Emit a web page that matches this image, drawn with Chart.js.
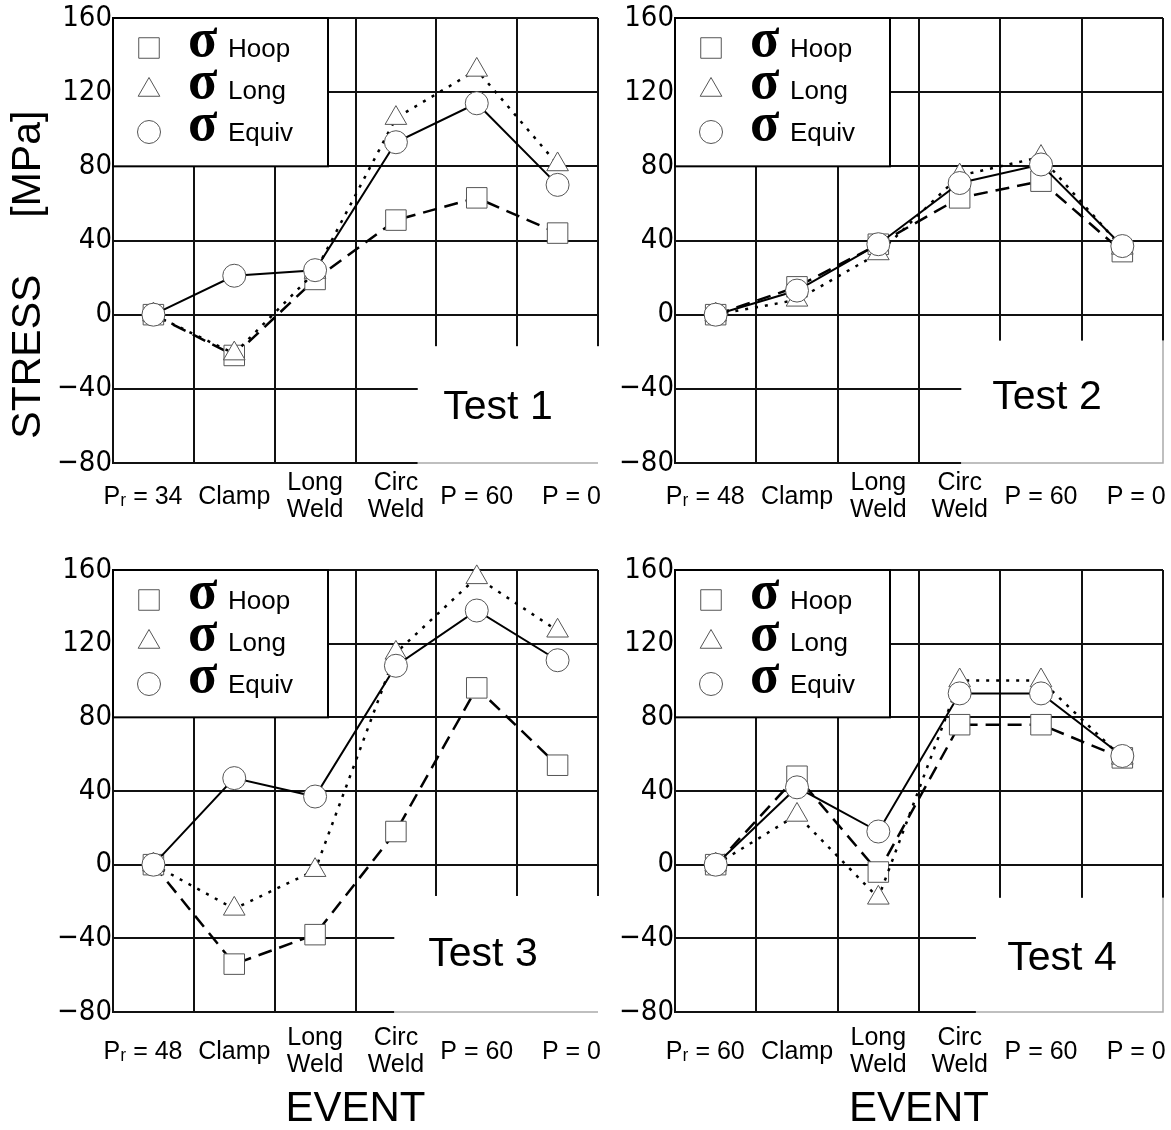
<!DOCTYPE html>
<html>
<head>
<meta charset="utf-8">
<script src="https://cdn.jsdelivr.net/npm/chart.js@4.4.0/dist/chart.umd.min.js"></script>
<style>
  body { margin: 0; background: #fff; width: 1171px; height: 1130px; position: relative; overflow: hidden; }
  canvas { position: absolute; }
</style>
</head>
<body>
<canvas id="c1" width="600" height="530" style="left:0;top:0"></canvas>
<canvas id="c2" width="609" height="530" style="left:562px;top:0"></canvas>
<canvas id="c3" width="600" height="578" style="left:0;top:552px"></canvas>
<canvas id="c4" width="609" height="578" style="left:562px;top:552px"></canvas>
<script>
// events along the x axis (first one is the reference pressure, differs per test)
const eventLabels = ['Clamp', ['Long', 'Weld'], ['Circ', 'Weld'], 'P = 60', 'P = 0'];
const refPressures = [34, 48, 48, 60];
const seriesNames = ['Hoop', 'Long', 'Equiv'];

// stresses in MPa
const hoop1 = [0, -22, 19, 51, 63, 44];
const long1 = [0, -21, 23, 106, 132, 81];
const equiv1 = [0, 21, 24, 93, 114, 70];

const hoop2 = [0, 15, 38, 63, 72, 34];
const long2 = [0, 8, 33, 75, 85, 36];
const equiv2 = [0, 13, 38, 71, 81, 37];

const hoop3 = [0, -54, -38, 18, 96, 54];
const long3 = [0, -24, -3, 115, 156, 127];
const equiv3 = [0, 47, 37, 108, 138, 111];

const hoop4 = [0, 48, -4, 76, 76, 58];
const long4 = [0, 27, -18, 100, 100, 58];
const equiv4 = [0, 42, 18, 93, 93, 59];

const yMin = -80, yMax = 160, yStep = 40;

const markerStyles = ['rect', 'triangle', 'circle'];
const markerRadius = [14.5, 12.5, 11.5];

// white legend box + white corner behind the "Test n" label
const panelDecor = {
  id: 'panelDecor',
  beforeDatasetsDraw(chart, args, opts) {
    const { ctx, chartArea: { left, right, top, bottom }, scales: { y } } = chart;
    const colW = (right - left) / 6;
    ctx.save();

    const bx = left + opts.boxLeft * colW;
    const by = y.getPixelForValue(opts.boxTop);
    ctx.fillStyle = '#fff';
    ctx.fillRect(bx, by, right - bx + 4, bottom - by + 3);
    ctx.strokeStyle = '#aaa';
    ctx.lineWidth = 1.5;
    ctx.beginPath();
    ctx.moveTo(bx, bottom);
    ctx.lineTo(right, bottom);
    if (opts.rightEdge) ctx.lineTo(right, by);
    ctx.stroke();

    ctx.fillStyle = '#000';
    ctx.font = '41px "Liberation Sans", Arial, sans-serif';
    ctx.textAlign = 'center';
    ctx.textBaseline = 'middle';
    ctx.fillText(opts.title, right - opts.labelDx, y.getPixelForValue(opts.labelY));

    // legend
    const lw = 215;
    const lb = y.getPixelForValue(80);
    ctx.fillStyle = '#fff';
    ctx.fillRect(left, top, lw, lb - top);
    ctx.strokeStyle = '#000';
    ctx.lineWidth = 2;
    ctx.strokeRect(left, top, lw, lb - top);
    seriesNames.forEach((name, i) => {
      const ry = top + 30 + i * 42;
      ctx.fillStyle = '#fff';
      ctx.strokeStyle = '#555';
      ctx.lineWidth = 1;
      Chart.helpers.drawPoint(ctx, { pointStyle: markerStyles[i], radius: markerRadius[i], borderWidth: 1 }, left + 36, ry);
      ctx.fillStyle = '#000';
      ctx.textAlign = 'left';
      ctx.font = 'bold 54px "Liberation Serif", serif';
      ctx.fillText('σ', left + 75, ry - 6);
      ctx.font = '26px "Liberation Sans", Arial, sans-serif';
      ctx.fillText(name, left + 115, ry + 2);
    });
    ctx.restore();
  }
};

function makePanel(id, n, hoop, lng, equiv, decor, opts) {
  const labels = ['Pᵣ = ' + refPressures[n], ...eventLabels];
  const lineStyles = [[14, 8], [3, 7], []];
  const values = [hoop, lng, equiv];
  const datasets = values.map((v, i) => ({
    label: seriesNames[i],
    data: v,
    borderColor: '#000',
    borderWidth: i === 2 ? 2 : 2.5,
    borderDash: lineStyles[i],
    pointStyle: markerStyles[i],
    pointRadius: markerRadius[i],
    pointBackgroundColor: '#fff',
    pointBorderColor: '#555',
    pointBorderWidth: 1,
    tension: 0,
    fill: false,
    clip: 20,
    order: 3 - i
  }));

  new Chart(document.getElementById(id), {
    type: 'line',
    data: { labels, datasets },
    options: {
      responsive: false,
      animation: false,
      layout: { autoPadding: false, padding: { top: 18, right: opts.padRight, left: 0, bottom: 0 } },
      plugins: {
        legend: { display: false },
        tooltip: { enabled: false },
        panelDecor: decor
      },
      scales: {
        x: {
          offset: true,
          grid: { offset: true, color: '#111', lineWidth: 2, drawTicks: false },
          border: { color: '#111', width: 2 },
          ticks: {
            color: '#000',
            maxRotation: 0,
            autoSkip: false,
            padding: opts.tickPad,
            crossAlign: 'center',
            font: { family: '"Liberation Sans", "DejaVu Sans", Arial, sans-serif', size: 25, lineHeight: 1.1 },
            // first and last labels sit a little off their category centre in the original
            callback: (v, i) => {
              const l = labels[i];
              if (i === 0) return l + '   ';
              if (i === labels.length - 1) return '    ' + l;
              return l;
            }
          },
          title: {
            display: !!opts.xTitle,
            text: opts.xTitle || '',
            color: '#000',
            font: { family: '"Liberation Sans", Arial, sans-serif', size: 42, lineHeight: 1 },
            padding: { top: 0, bottom: 0 }
          },
          afterFit: (s) => {
            s.height = opts.xHeight;
            s.paddingLeft = 0;
            s.paddingRight = 0;
          }
        },
        y: {
          min: yMin,
          max: yMax,
          grid: { color: '#111', lineWidth: 2, drawTicks: false },
          border: { color: '#111', width: 2 },
          ticks: {
            stepSize: yStep,
            color: '#000',
            padding: 1,
            font: { family: '"DejaVu Sans Condensed", "DejaVu Sans", sans-serif', size: 29, lineHeight: 1 },
            callback: (v) => (v < 0 ? '−' + Math.abs(v) : String(v))
          },
          title: {
            display: !!opts.yTitle,
            text: opts.yTitle || '',
            color: '#000',
            font: { family: '"Liberation Sans", Arial, sans-serif', size: 41 },
            padding: { top: 4, bottom: 0 }
          },
          afterFit: (s) => { s.width = 113; }
        }
      }
    },
    plugins: [panelDecor]
  });
}

makePanel('c1', 0, hoop1, long1, equiv1,
  { title: 'Test 1', boxLeft: 3.77, boxTop: -17, labelDx: 100, labelY: -50, rightEdge: false },
  { padRight: 2, xHeight: 67, tickPad: 20, yTitle: 'STRESS     [MPa]      ' });
makePanel('c2', 1, hoop2, long2, equiv2,
  { title: 'Test 2', boxLeft: 3.52, boxTop: -14, labelDx: 116, labelY: -45, rightEdge: true },
  { padRight: 8, xHeight: 67, tickPad: 20 });
makePanel('c3', 2, hoop3, long3, equiv3,
  { title: 'Test 3', boxLeft: 3.48, boxTop: -17, labelDx: 115, labelY: -49, rightEdge: false },
  { padRight: 2, xHeight: 118, tickPad: 26, xTitle: 'EVENT' });
makePanel('c4', 3, hoop4, long4, equiv4,
  { title: 'Test 4', boxLeft: 3.7, boxTop: -18, labelDx: 101, labelY: -51, rightEdge: true },
  { padRight: 8, xHeight: 118, tickPad: 26, xTitle: 'EVENT' });
</script>
</body>
</html>
